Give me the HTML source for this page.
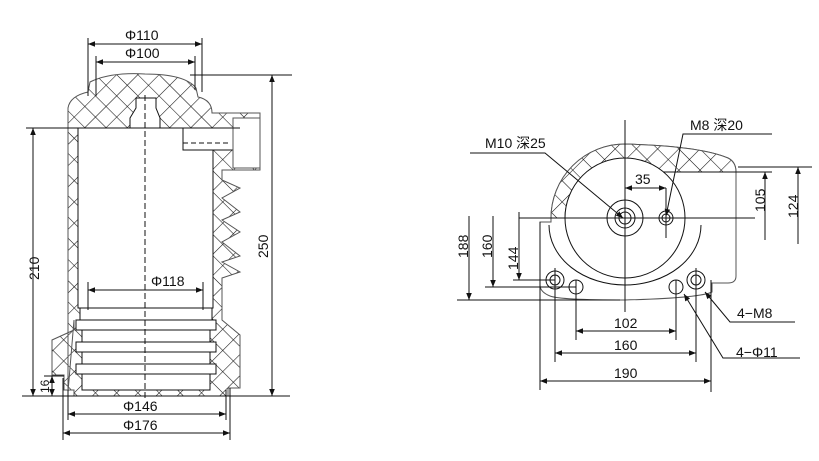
<!DOCTYPE html>
<html><head><meta charset="utf-8"><style>
html,body{margin:0;padding:0;background:#fff;width:819px;height:461px;overflow:hidden}
text{font-family:"Liberation Sans","Noto Sans CJK SC",sans-serif;font-size:14px;fill:#111}
</style></head><body>
<svg width="819" height="461" viewBox="0 0 819 461" xmlns="http://www.w3.org/2000/svg">
<defs>
<pattern id="h" width="15" height="15" patternUnits="userSpaceOnUse" patternTransform="rotate(45)">
<rect width="15" height="15" fill="#fff"/>
<line x1="0" y1="0" x2="0" y2="15" stroke="#111" stroke-width="1.1"/>
<line x1="0" y1="0" x2="15" y2="0" stroke="#111" stroke-width="1.1"/>
</pattern>
<marker id="a" viewBox="0 0 10 10" refX="10" refY="5" markerWidth="9" markerHeight="7" orient="auto-start-reverse" markerUnits="userSpaceOnUse"><path d="M0,1 L10,5 L0,9 z" fill="#111"/></marker>
</defs>
<g stroke="#111" stroke-width="1" fill="none">
<path d="M68,392 L68,128 L68,108 Q70,96 88,92 L90,82 Q110,72 145,74 Q185,74 196,88 L198,97 Q212,100 212,113 L260,113 L260,170 L222,170 L222,180 L240,188 L222,198 L240,212 L222,220 L240,232 L222,242 L240,256 L222,262 L240,272 L222,278 L222,320 L240,335 L240,388 L228,388 L228,396 L74,396 L74,390 L64,390 L64,375 L52,375 L52,340 L74,330 L74,320 Z" fill="url(#h)" stroke="#555"/>
<rect x="78" y="128" width="135" height="180" fill="#fff"/>
<rect x="183" y="128" width="50" height="22" fill="#fff" stroke="#111"/>
<rect x="233" y="118" width="27" height="50" fill="#fff" stroke="#555"/>
<path d="M136,108 L136,98 L156,98 L156,108 L160,118 L160,128 L130,128 L130,118 Z" fill="#fff" stroke="#111"/>
<line x1="183" y1="143" x2="230" y2="143" stroke-dasharray="5,3"/>
<g fill="#fff">
<rect x="80" y="308" width="132" height="12"/>
<rect x="76" y="320" width="140" height="10"/>
<rect x="82" y="330" width="128" height="12"/>
<rect x="76" y="342" width="140" height="10"/>
<rect x="82" y="352" width="128" height="12"/>
<rect x="76" y="364" width="140" height="10"/>
<rect x="82" y="374" width="128" height="16"/>
</g>
<line x1="145" y1="95" x2="145" y2="400" stroke-dasharray="6,3"/>
<line x1="88" y1="38" x2="88" y2="96"/><line x1="202" y1="38" x2="202" y2="92"/>
<line x1="88" y1="44" x2="202" y2="44" marker-start="url(#a)" marker-end="url(#a)"/>
<line x1="96" y1="56" x2="96" y2="96"/><line x1="195" y1="56" x2="195" y2="90"/>
<line x1="96" y1="62" x2="195" y2="62" marker-start="url(#a)" marker-end="url(#a)"/>
<line x1="190" y1="75" x2="292" y2="75"/>
<line x1="26" y1="128" x2="240" y2="128"/>
<line x1="22" y1="396" x2="290" y2="396"/>
<line x1="33" y1="128" x2="33" y2="396" marker-start="url(#a)" marker-end="url(#a)"/>
<line x1="272" y1="75" x2="272" y2="396" marker-start="url(#a)" marker-end="url(#a)"/>
<line x1="88" y1="282" x2="88" y2="310"/><line x1="203" y1="282" x2="203" y2="310"/>
<line x1="88" y1="290" x2="203" y2="290" marker-start="url(#a)" marker-end="url(#a)"/>
<line x1="68" y1="390" x2="68" y2="420"/><line x1="226" y1="390" x2="226" y2="420"/>
<line x1="68" y1="414" x2="226" y2="414" marker-start="url(#a)" marker-end="url(#a)"/>
<line x1="63" y1="378" x2="63" y2="440"/><line x1="230" y1="388" x2="230" y2="440"/>
<line x1="63" y1="433" x2="230" y2="433" marker-start="url(#a)" marker-end="url(#a)"/>
<line x1="52" y1="376" x2="52" y2="396" marker-start="url(#a)" marker-end="url(#a)"/>
<line x1="44" y1="376" x2="64" y2="376"/>

<path d="M551,218 A74,74 0 0 1 625,144 Q700,146 728,158 Q736,162 736,172 L736,276 Q736,283 728,283 L712,283 L712,292 Q700,298 625,300 Q560,300 550,296 Q540,292 540,285 L540,222 L551,222 Z" fill="#fff" stroke="#555"/>
<path d="M551,218 A74,74 0 0 1 625,144 Q700,146 728,158 Q736,162 736,172 L663,172 A60,60 0 0 0 565,218 Z" fill="url(#h)" stroke="#555"/>
<circle cx="625" cy="218" r="60" fill="#fff"/>
<path d="M549,225 A76,60 0 0 0 701,225"/>
<circle cx="625" cy="218" r="18" fill="#fff"/>
<circle cx="625" cy="218" r="10"/><circle cx="625" cy="218" r="6"/>
<circle cx="666" cy="218" r="7" fill="#fff"/><circle cx="666" cy="218" r="4"/>
<circle cx="555" cy="280" r="9" fill="#fff"/><circle cx="555" cy="280" r="5"/>
<circle cx="696" cy="280" r="9" fill="#fff"/><circle cx="696" cy="280" r="5"/>
<circle cx="576" cy="287" r="7" fill="#fff"/><circle cx="676" cy="287" r="7" fill="#fff"/>
<line x1="625" y1="120" x2="625" y2="312"/>
<line x1="519" y1="218" x2="755" y2="218"/>
<line x1="666" y1="188" x2="666" y2="238"/>
<line x1="625" y1="188" x2="666" y2="188" marker-start="url(#a)" marker-end="url(#a)"/>
<line x1="663" y1="172" x2="772" y2="172"/>
<line x1="738" y1="167" x2="812" y2="167"/>
<line x1="765" y1="172" x2="765" y2="240" marker-start="url(#a)"/>
<line x1="798" y1="167" x2="798" y2="244" marker-start="url(#a)"/>
<line x1="513" y1="280" x2="555" y2="280"/>
<line x1="485" y1="287" x2="576" y2="287"/>
<line x1="457" y1="300" x2="620" y2="300"/>
<line x1="469" y1="216" x2="469" y2="300" marker-end="url(#a)"/>
<line x1="493" y1="216" x2="493" y2="287" marker-end="url(#a)"/>
<line x1="519" y1="212" x2="519" y2="280" marker-end="url(#a)"/>
<line x1="576" y1="280" x2="576" y2="340"/><line x1="676" y1="280" x2="676" y2="340"/>
<line x1="555" y1="268" x2="555" y2="362"/><line x1="696" y1="268" x2="696" y2="362"/>
<line x1="540" y1="222" x2="540" y2="390"/><line x1="711" y1="280" x2="711" y2="392"/>
<line x1="576" y1="331" x2="676" y2="331" marker-start="url(#a)" marker-end="url(#a)"/>
<line x1="555" y1="353" x2="696" y2="353" marker-start="url(#a)" marker-end="url(#a)"/>
<line x1="540" y1="381" x2="711" y2="381" marker-start="url(#a)" marker-end="url(#a)"/>
<polyline points="470,153 545,153 623,218" marker-end="url(#a)"/>
<polyline points="772,134 683,134 666,216" marker-end="url(#a)"/>
<polyline points="795,322 730,322 705,292" marker-end="url(#a)"/>
<polyline points="800,358 723,358 684,294" marker-end="url(#a)"/>
</g>
<text x="125" y="40">Φ110</text>
<text x="125" y="58">Φ100</text>
<text x="151" y="286">Φ118</text>
<text x="123" y="411">Φ146</text>
<text x="123" y="430">Φ176</text>
<text transform="translate(39,280) rotate(-90)">210</text>
<text transform="translate(268,258) rotate(-90)">250</text>
<text transform="translate(49,393) rotate(-90)" style="font-size:12px">16</text>
<text x="485" y="148">M10 深25</text>
<text x="690" y="130">M8 深20</text>
<text x="635" y="184">35</text>
<text transform="translate(765,212) rotate(-90)">105</text>
<text transform="translate(798,218) rotate(-90)">124</text>
<text transform="translate(468,258) rotate(-90)">188</text>
<text transform="translate(492,258) rotate(-90)">160</text>
<text transform="translate(518,270) rotate(-90)">144</text>
<text x="614" y="328">102</text>
<text x="614" y="350">160</text>
<text x="614" y="378">190</text>
<text x="737" y="318">4−M8</text>
<text x="736" y="357">4−Φ11</text>
</svg>
</body></html>
